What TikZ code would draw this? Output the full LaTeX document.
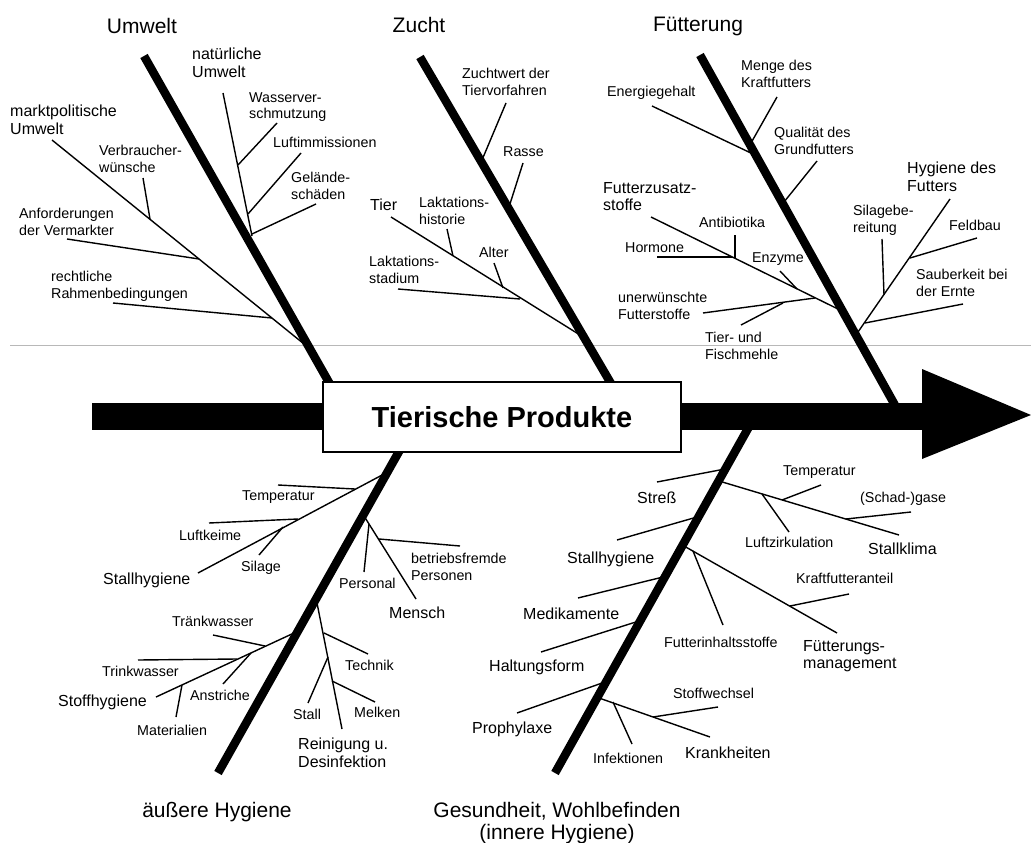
\documentclass[tikz,border=0pt]{standalone}
\usepackage{fontspec}
\setmainfont{Liberation Sans}
\begin{document}
\begin{tikzpicture}[x=1pt,y=-1pt,
  spine/.style={line width=8.5pt},
  twig/.style={line width=1.4pt},
  title/.style={font=\fontsize{21}{22.5}\selectfont, inner sep=0pt, anchor=north, align=center},
  mid/.style={font=\fontsize{16}{17.5}\selectfont, inner sep=0pt, anchor=north west, align=left},
  small/.style={font=\fontsize{14.3}{16.6}\selectfont, inner sep=0pt, anchor=north west, align=left},
]
\useasboundingbox (0,0) rectangle (1031,843);

% thin grey rule behind everything
\coordinate (gl) at (10,345);
\coordinate (gr) at (1031,345);
\draw[black!28, line width=1pt] (gl) -- (gr);

% ---------- main spines ----------
\coordinate (U0) at (144,56);  \coordinate (U1) at (348,416);
\coordinate (Z0) at (420,57);  \coordinate (Z1) at (630,416);
\coordinate (F0) at (700,55);  \coordinate (F1) at (901,416);
\coordinate (A0) at (218,773); \coordinate (A1) at (419,416);
\coordinate (G0) at (555,773); \coordinate (G1) at (755,416);
\draw[spine] (U0) -- (U1);
\draw[spine] (Z0) -- (Z1);
\draw[spine] (F0) -- (F1);
\draw[spine] (A0) -- (A1);
\draw[spine] (G0) -- (G1);

% ---------- Umwelt ----------
\coordinate (un1) at (223,93);  \coordinate (un2) at (252,236);
\coordinate (uw1) at (277,123); \coordinate (uw2) at (238,165);
\coordinate (ul1) at (301,153); \coordinate (ul2) at (248,214);
\coordinate (ug1) at (316,204); \coordinate (ug2) at (252,234);
\coordinate (um1) at (52,140);  \coordinate (um2) at (309,348);
\coordinate (uv1) at (143,178); \coordinate (uv2) at (150,219);
\coordinate (ua1) at (67,239);  \coordinate (ua2) at (199,259);
\coordinate (ur1) at (113,303); \coordinate (ur2) at (272,318);
\draw[twig] (un1) -- (un2);
\draw[twig] (uw1) -- (uw2);
\draw[twig] (ul1) -- (ul2);
\draw[twig] (ug1) -- (ug2);
\draw[twig] (um1) -- (um2);
\draw[twig] (uv1) -- (uv2);
\draw[twig] (ua1) -- (ua2);
\draw[twig] (ur1) -- (ur2);

% ---------- Zucht ----------
\coordinate (zw1) at (506,103); \coordinate (zw2) at (482,160);
\coordinate (zr1) at (523,163); \coordinate (zr2) at (509,207);
\coordinate (zt1) at (391,217); \coordinate (zt2) at (580,335);
\coordinate (zh1) at (447,229); \coordinate (zh2) at (453,256);
\coordinate (za1) at (494,263); \coordinate (za2) at (503,288);
\coordinate (zs1) at (398,289); \coordinate (zs2) at (520,299);
\draw[twig] (zw1) -- (zw2);
\draw[twig] (zr1) -- (zr2);
\draw[twig] (zt1) -- (zt2);
\draw[twig] (zh1) -- (zh2);
\draw[twig] (za1) -- (za2);
\draw[twig] (zs1) -- (zs2);

% ---------- Fuetterung ----------
\coordinate (fe1) at (652,106); \coordinate (fe2) at (753,154);
\coordinate (fm1) at (777,97);  \coordinate (fm2) at (751,143);
\coordinate (fq1) at (817,161); \coordinate (fq2) at (784,202);
\coordinate (fz1) at (651,217); \coordinate (fz2) at (840,310);
\coordinate (fa1) at (735,235); \coordinate (fa2) at (735,258);
\coordinate (fh1) at (657,257); \coordinate (fh2) at (732,257);
\coordinate (fn1) at (780,271); \coordinate (fn2) at (797,289);
\coordinate (fu1) at (703,313); \coordinate (fu2) at (815,298);
\coordinate (ft1) at (741,325); \coordinate (ft2) at (783,303);
\coordinate (fy1) at (950,199); \coordinate (fy2) at (858,332);
\coordinate (fs1) at (882,239); \coordinate (fs2) at (884,295);
\coordinate (fb1) at (977,238); \coordinate (fb2) at (910,258);
\coordinate (fk1) at (963,304); \coordinate (fk2) at (865,323);
\draw[twig] (fe1) -- (fe2);
\draw[twig] (fm1) -- (fm2);
\draw[twig] (fq1) -- (fq2);
\draw[twig] (fz1) -- (fz2);
\draw[twig] (fa1) -- (fa2);
\draw[twig] (fh1) -- (fh2);
\draw[twig] (fn1) -- (fn2);
\draw[twig] (fu1) -- (fu2);
\draw[twig] (ft1) -- (ft2);
\draw[twig] (fy1) -- (fy2);
\draw[twig] (fs1) -- (fs2);
\draw[twig] (fb1) -- (fb2);
\draw[twig] (fk1) -- (fk2);

% ---------- aeussere Hygiene ----------
\coordinate (as1) at (198,573); \coordinate (as2) at (384,474);
\coordinate (at1) at (278,485); \coordinate (at2) at (355,489);
\coordinate (ak1) at (209,523); \coordinate (ak2) at (298,519);
\coordinate (ai1) at (259,555); \coordinate (ai2) at (283,527);
\coordinate (ao1) at (156,697); \coordinate (ao2) at (294,633);
\coordinate (aw1) at (213,635); \coordinate (aw2) at (265,646);
\coordinate (ar1) at (138,660); \coordinate (ar2) at (237,659);
\coordinate (an1) at (223,684); \coordinate (an2) at (251,653);
\coordinate (am1) at (176,717); \coordinate (am2) at (182,685);
\coordinate (ae1) at (364,516); \coordinate (ae2) at (416,599);
\coordinate (ap1) at (364,572); \coordinate (ap2) at (369,524);
\coordinate (ab1) at (379,539); \coordinate (ab2) at (460,546);
\coordinate (ad1) at (317,603); \coordinate (ad2) at (342,729);
\coordinate (ac1) at (324,633); \coordinate (ac2) at (368,654);
\coordinate (al1) at (328,657); \coordinate (al2) at (308,703);
\coordinate (ak3) at (332,681); \coordinate (ak4) at (375,702);
\draw[twig] (as1) -- (as2);
\draw[twig] (at1) -- (at2);
\draw[twig] (ak1) -- (ak2);
\draw[twig] (ai1) -- (ai2);
\draw[twig] (ao1) -- (ao2);
\draw[twig] (aw1) -- (aw2);
\draw[twig] (ar1) -- (ar2);
\draw[twig] (an1) -- (an2);
\draw[twig] (am1) -- (am2);
\draw[twig] (ae1) -- (ae2);
\draw[twig] (ap1) -- (ap2);
\draw[twig] (ab1) -- (ab2);
\draw[twig] (ad1) -- (ad2);
\draw[twig] (ac1) -- (ac2);
\draw[twig] (al1) -- (al2);
\draw[twig] (ak3) -- (ak4);

% ---------- Gesundheit ----------
\coordinate (gs1) at (657,482); \coordinate (gs2) at (725,469);
\coordinate (gh1) at (617,540); \coordinate (gh2) at (697,517);
\coordinate (gm1) at (578,598); \coordinate (gm2) at (663,577);
\coordinate (gf1) at (541,652); \coordinate (gf2) at (639,621);
\coordinate (gp1) at (517,713); \coordinate (gp2) at (605,682);
\coordinate (gk1) at (599,698); \coordinate (gk2) at (710,737);
\coordinate (gi1) at (613,702); \coordinate (gi2) at (632,744);
\coordinate (gw1) at (718,707); \coordinate (gw2) at (653,717);
\coordinate (gc1) at (719,481); \coordinate (gc2) at (899,535);
\coordinate (gz1) at (762,494); \coordinate (gz2) at (789,532);
\coordinate (gt1) at (821,485); \coordinate (gt2) at (782,500);
\coordinate (gg1) at (911,512); \coordinate (gg2) at (846,519);
\coordinate (gu1) at (684,546); \coordinate (gu2) at (837,633);
\coordinate (gn1) at (693,551); \coordinate (gn2) at (723,625);
\coordinate (ga1) at (849,594); \coordinate (ga2) at (790,606);
\draw[twig] (gs1) -- (gs2);
\draw[twig] (gh1) -- (gh2);
\draw[twig] (gm1) -- (gm2);
\draw[twig] (gf1) -- (gf2);
\draw[twig] (gp1) -- (gp2);
\draw[twig] (gk1) -- (gk2);
\draw[twig] (gi1) -- (gi2);
\draw[twig] (gw1) -- (gw2);
\draw[twig] (gc1) -- (gc2);
\draw[twig] (gz1) -- (gz2);
\draw[twig] (gt1) -- (gt2);
\draw[twig] (gg1) -- (gg2);
\draw[twig] (gu1) -- (gu2);
\draw[twig] (gn1) -- (gn2);
\draw[twig] (ga1) -- (ga2);

% ---------- main arrow and effect box ----------
\fill (92,403) rectangle (923,430);
\fill (922,369) -- (1031,415) -- (922,459) -- cycle;
\node[draw, line width=2pt, fill=white, minimum width=358pt, minimum height=70pt,
      inner sep=0pt, font=\bfseries\fontsize{29}{32}\selectfont] (prod) at (502,417)
      {Tierische Produkte};

% ---------- category titles ----------
\node[title] (tU) at (142,18) {Umwelt};
\node[title] (tZ) at (419,17) {Zucht};
\node[title] (tF) at (698,17) {Fütterung};
\node[title] (tA) at (217,802) {äußere Hygiene};
\node[title] (tG) at (557,802) {Gesundheit, Wohlbefinden\\(innere Hygiene)};

% ---------- Umwelt labels ----------
\node[mid]   (lUn) at (192,48)  {natürliche\\Umwelt};
\node[small] (lUw) at (249,92)  {Wasserver-\\schmutzung};
\node[small] (lUl) at (273,137) {Luftimmissionen};
\node[small] (lUg) at (291,172) {Gelände-\\schäden};
\node[mid]   (lUm) at (10,105)  {marktpolitische\\Umwelt};
\node[small] (lUv) at (99,145)  {Verbraucher-\\wünsche};
\node[small] (lUa) at (19,208)  {Anforderungen\\der Vermarkter};
\node[small] (lUr) at (51,271)  {rechtliche\\Rahmenbedingungen};

% ---------- Zucht labels ----------
\node[small] (lZw) at (462,68)  {Zuchtwert der\\Tiervorfahren};
\node[small] (lZr) at (503,146) {Rasse};
\node[mid]   (lZt) at (370,199) {Tier};
\node[small] (lZh) at (419,197) {Laktations-\\historie};
\node[small] (lZa) at (479,247) {Alter};
\node[small] (lZs) at (369,256) {Laktations-\\stadium};

% ---------- Fuetterung labels ----------
\node[small] (lFe) at (607,86)  {Energiegehalt};
\node[small] (lFm) at (741,60)  {Menge des\\Kraftfutters};
\node[small] (lFq) at (774,127) {Qualität des\\Grundfutters};
\node[mid]   (lFz) at (603,182) {Futterzusatz-\\stoffe};
\node[small] (lFa) at (699,217) {Antibiotika};
\node[small] (lFh) at (625,242) {Hormone};
\node[small] (lFn) at (752,252) {Enzyme};
\node[small] (lFu) at (618,292) {unerwünschte\\Futterstoffe};
\node[small] (lFt) at (705,332) {Tier- und\\Fischmehle};
\node[mid]   (lFy) at (907,162) {Hygiene des\\Futters};
\node[small] (lFs) at (853,205) {Silagebe-\\reitung};
\node[small] (lFb) at (949,220) {Feldbau};
\node[small] (lFk) at (916,269) {Sauberkeit bei\\der Ernte};

% ---------- aeussere Hygiene labels ----------
\node[small] (lAt) at (242,490) {Temperatur};
\node[small] (lAk) at (179,530) {Luftkeime};
\node[small] (lAi) at (241,561) {Silage};
\node[mid]   (lAs) at (103,573) {Stallhygiene};
\node[small] (lAw) at (172,616) {Tränkwasser};
\node[small] (lAr) at (102,666) {Trinkwasser};
\node[small] (lAn) at (190,690) {Anstriche};
\node[small] (lAm) at (137,725) {Materialien};
\node[mid]   (lAo) at (58,695)  {Stoffhygiene};
\node[small] (lAp) at (339,578) {Personal};
\node[small] (lAb) at (411,553) {betriebsfremde\\Personen};
\node[mid]   (lAe) at (389,607) {Mensch};
\node[small] (lAc) at (345,660) {Technik};
\node[small] (lAl) at (293,709) {Stall};
\node[small] (lAk2) at (354,707) {Melken};
\node[mid]   (lAd) at (298,738) {Reinigung u.\\Desinfektion};

% ---------- Gesundheit labels ----------
\node[mid]   (lGs) at (637,492) {Streß};
\node[mid]   (lGh) at (567,552) {Stallhygiene};
\node[mid]   (lGm) at (523,608) {Medikamente};
\node[mid]   (lGf) at (489,660) {Haltungsform};
\node[mid]   (lGp) at (472,722) {Prophylaxe};
\node[small] (lGi) at (593,753) {Infektionen};
\node[small] (lGw) at (673,688) {Stoffwechsel};
\node[mid]   (lGk) at (685,747) {Krankheiten};
\node[small] (lGz) at (745,537) {Luftzirkulation};
\node[small] (lGt) at (783,465) {Temperatur};
\node[small] (lGg) at (860,492) {(Schad-)gase};
\node[mid]   (lGc) at (868,543) {Stallklima};
\node[small] (lGn) at (664,637) {Futterinhaltsstoffe};
\node[small] (lGa) at (796,573) {Kraftfutteranteil};
\node[mid]   (lGu) at (803,640) {Fütterungs-\\management};
\end{tikzpicture}
\end{document}
